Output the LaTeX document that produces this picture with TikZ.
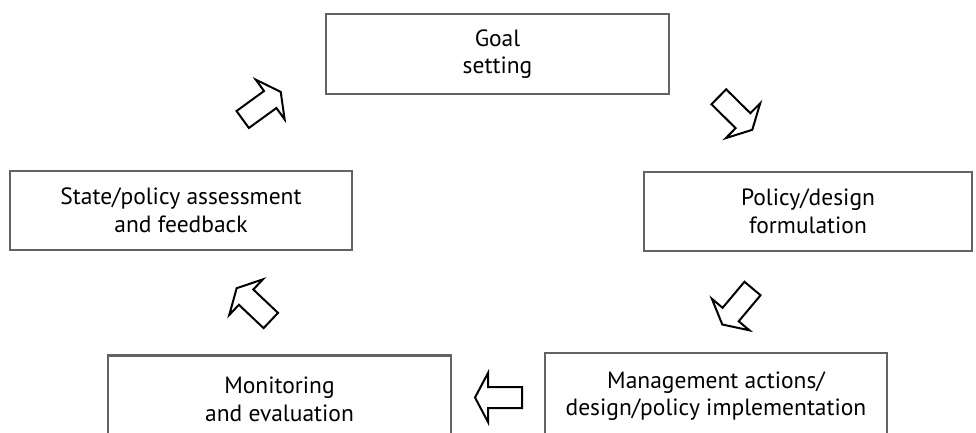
\documentclass[tikz,border=0pt]{standalone}
\usepackage{fontspec}
\setmainfont{PT Sans}
\definecolor{boxgray}{HTML}{636363}
\begin{document}
\begin{tikzpicture}[x=1pt,y=1pt,
  stage/.style={draw=boxgray, line width=2.8pt, align=center, inner sep=0pt,
    font=\fontsize{23.5}{27.5}\selectfont},
  arrowline/.style={draw=black, line width=2pt, fill=white, line join=miter},
  blockarrow/.pic={\draw[arrowline] (0,-10.5) -- (34,-10.5) -- (34,-24.5) -- (47,0)
     -- (34,24.5) -- (34,10.5) -- (0,10.5) -- cycle;}
  ]
\useasboundingbox (0,0) rectangle (976,-432);
\clip (0,0) rectangle (976,-432);

\node[stage, minimum width=343pt, minimum height=80pt] (goal) at (497.5,-54) {Goal\\setting};
\node[stage, minimum width=328pt, minimum height=79pt] (policy) at (808,-211.5) {Policy/design\\formulation};
\node[stage, minimum width=342pt, minimum height=86pt] (mgmt) at (716,-396) {Management actions/\\design/policy implementation};
\node[stage, minimum width=343pt, minimum height=88pt] (monitor) at (279.5,-399.5) {Monitoring\\and evaluation};
\node[stage, minimum width=342pt, minimum height=79pt] (state) at (181,-210.5) {State/policy assessment\\and feedback};

\pic[rotate=36] at (242.7,-119.5) {blockarrow};
\pic[rotate=-44.6] at (718.8,-96.8) {blockarrow};
\pic[rotate=230] at (752.5,-288.5) {blockarrow};
\pic[rotate=180] at (522,-397.5) {blockarrow};
\pic[rotate=136.6] at (270.8,-320.5) {blockarrow};
\end{tikzpicture}
\end{document}
